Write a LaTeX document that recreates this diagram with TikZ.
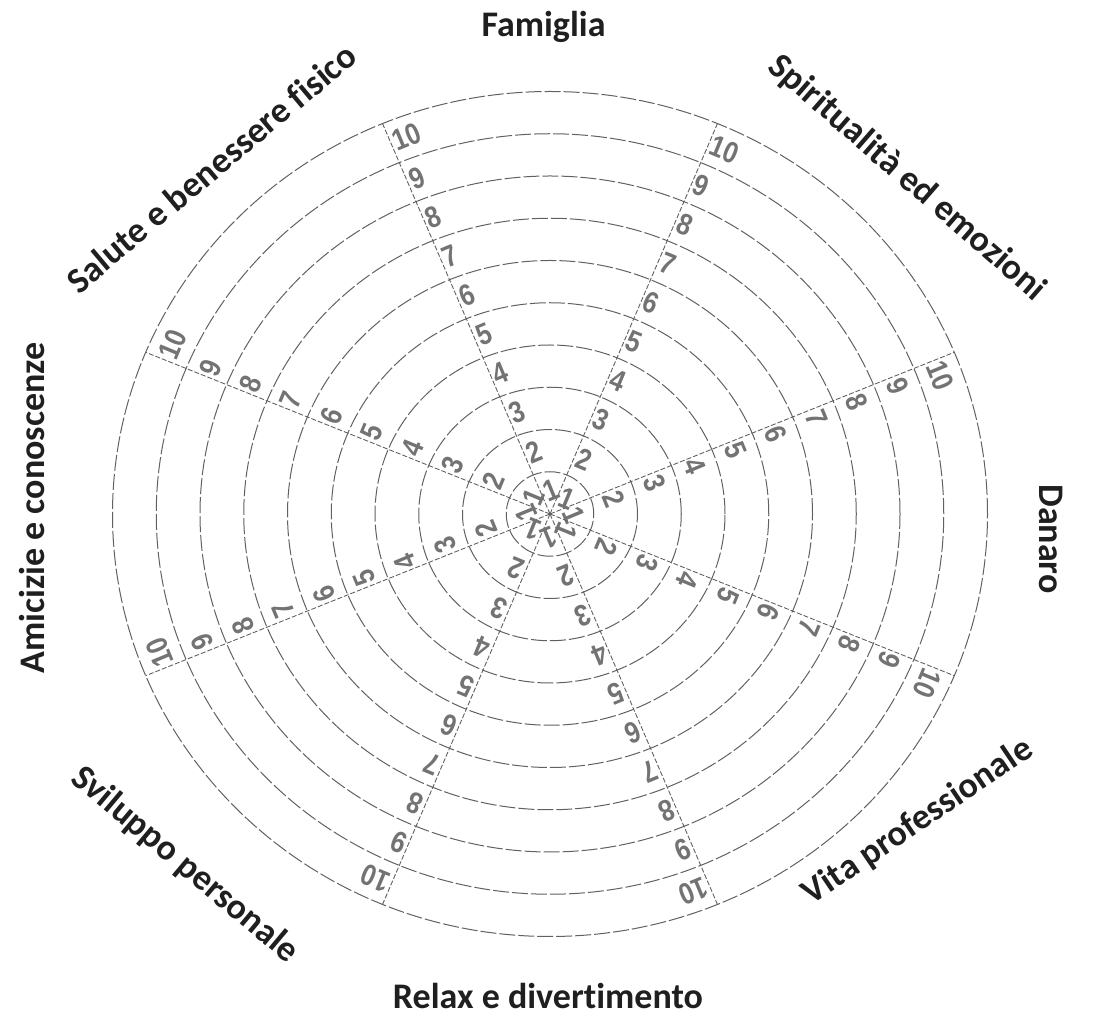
\documentclass[tikz,border=0pt]{standalone}
\usepackage{fontspec}
\setmainfont{Carlito}[Ligatures=NoCommon]
\newfontfamily\numfont[FakeStretch=0.85, UprightFont=* Bold]{Liberation Sans}
\usetikzlibrary{calc}
\begin{document}
\begin{tikzpicture}[x=1pt,y=1pt]
\tikzset{
  ring/.style={draw=black!62, line width=1pt, dash pattern=on 16pt off 3pt},
  spoke/.style={draw=black!62, line width=0.9pt, dash pattern=on 5pt off 2pt},
  num/.style={text=black!55, font=\numfont\fontsize{30}{30}\selectfont, inner sep=2.5pt, anchor=west},
  lab/.style={font=\bfseries\fontsize{36}{40}\selectfont, text=black!88, inner sep=0pt}
}
\useasboundingbox (0,0) rectangle (1093,1015);
\coordinate (C) at (550,501);
\foreach \k in {1,...,10}
  \draw[ring] (C) ellipse [x radius=\k*43.75, y radius=\k*42.25];
\foreach \a [count=\i] in {22.5,67.5,...,337.5} {
  \coordinate (e\i) at ($(C)+({437.5*cos(\a)},{422.5*sin(\a)})$);
  \draw[spoke] (C) -- (e\i);
  \foreach \k in {1,...,10}
    \node[num, rotate=\a-90] (n\i-\k) at ($(C)+({(\k-0.5)*43.75*cos(\a)},{(\k-0.5)*42.25*sin(\a)})$) {\k};
}
\node[lab, anchor=base] (fam) at (543.5,978) {Famiglia};
\node[lab, anchor=base] (rel) at (548,6) {Relax e divertimento};
\node[lab, rotate=90] (ami) at (32,507) {Amicizie e conoscenze};
\node[lab, rotate=-90] (dan) at (1051,476) {Danaro};
\node[lab, rotate=40] (sal) at (211,847) {Salute e benessere fisico};
\node[lab, rotate=-41] (spi) at (907,837) {Spiritualità ed emozioni};
\node[lab, rotate=34] (vit) at (918,193) {Vita professionale};
\node[lab, rotate=-40] (svi) at (185,150) {Sviluppo personale};
\end{tikzpicture}
\end{document}
